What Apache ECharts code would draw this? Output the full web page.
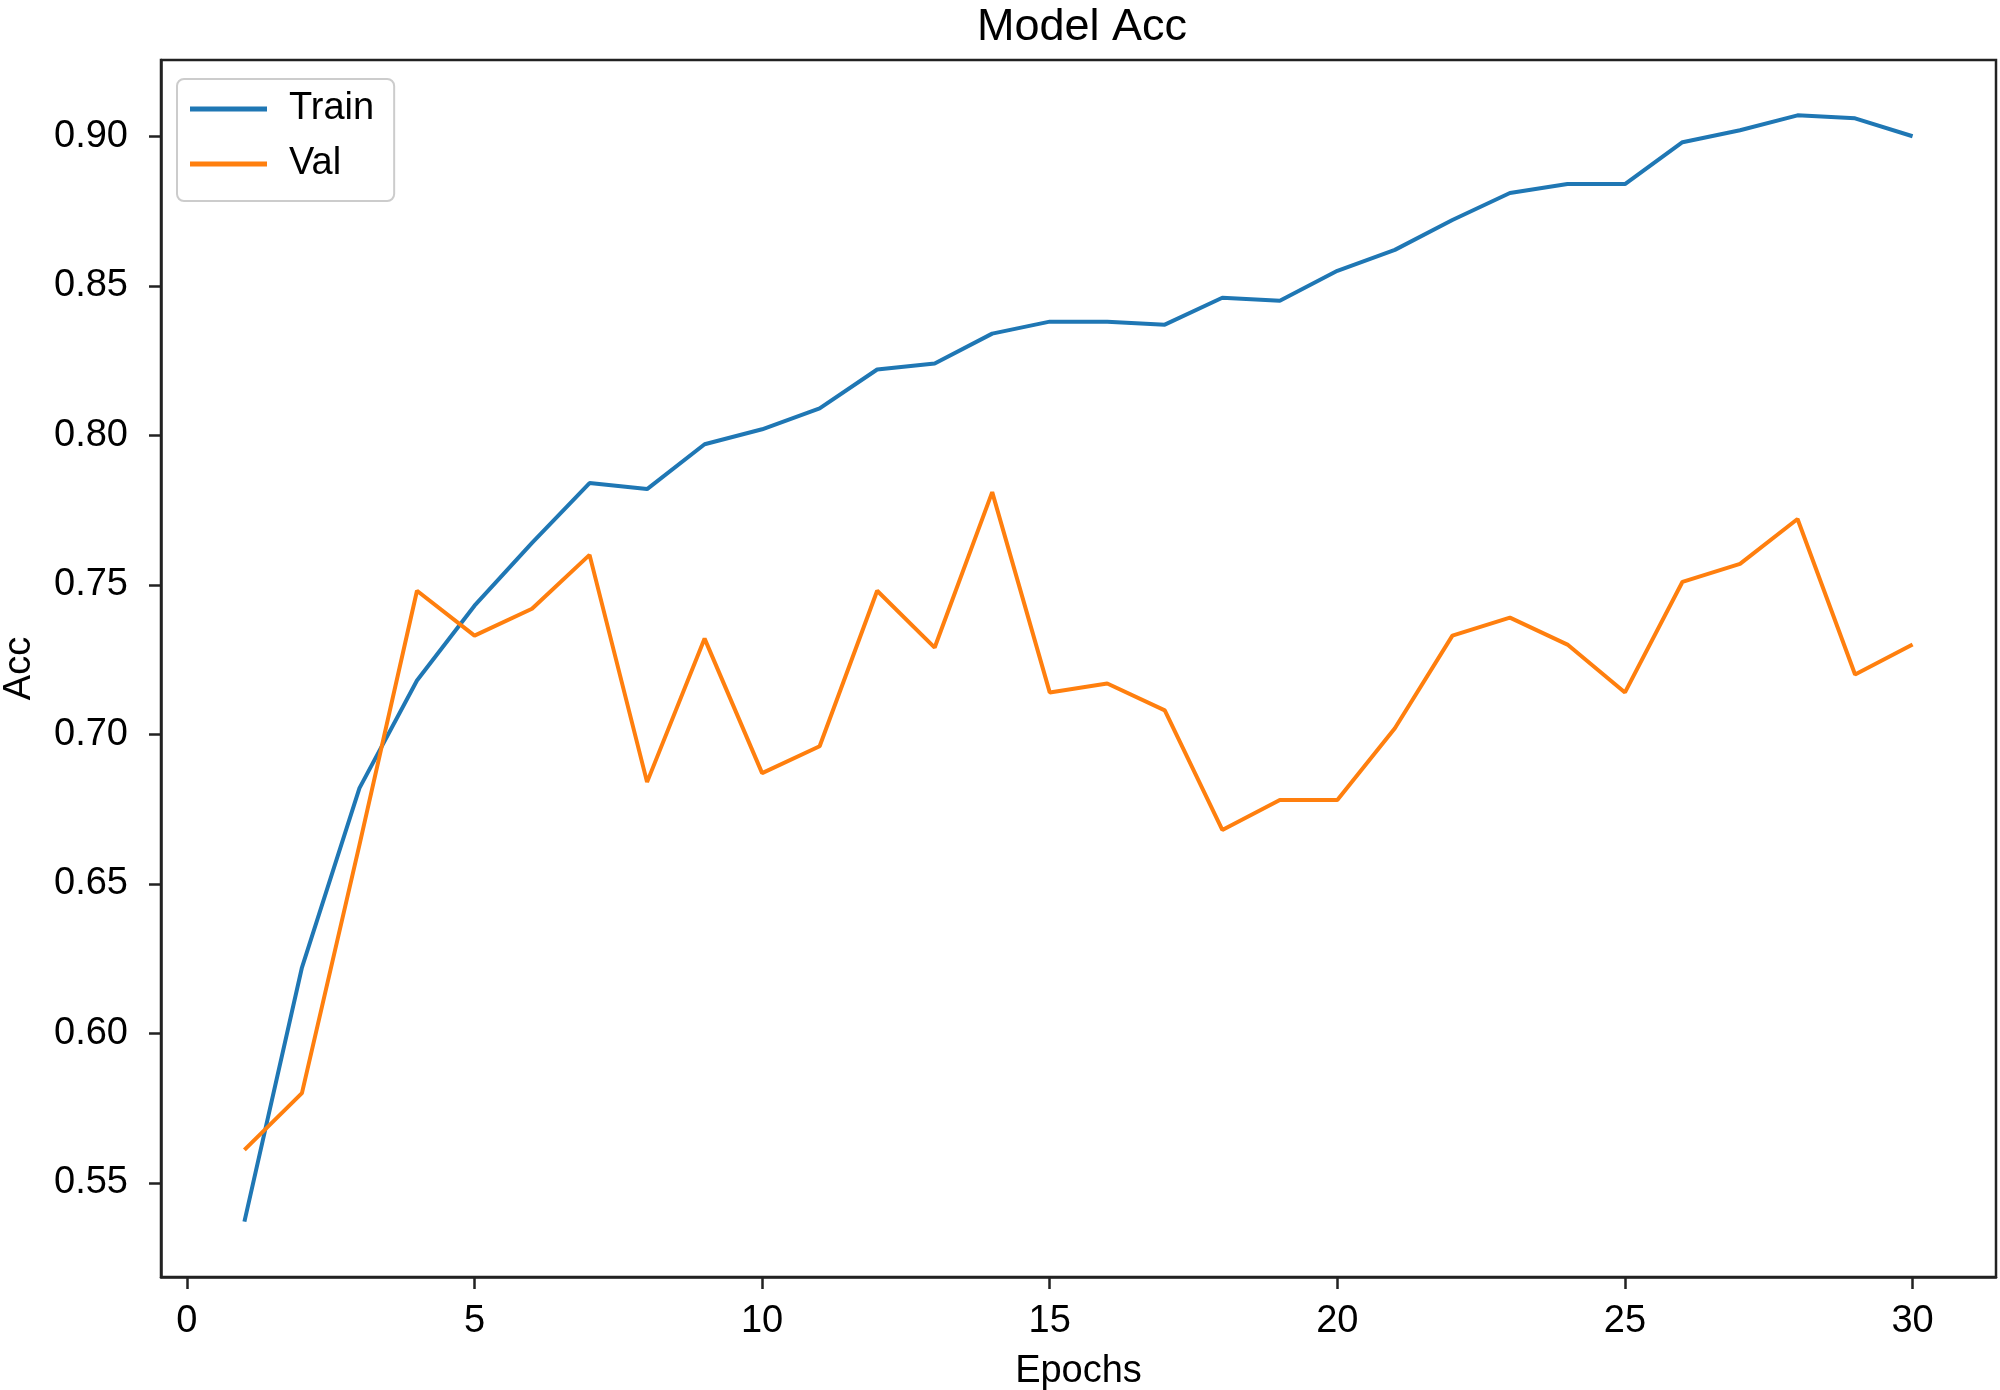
<!DOCTYPE html>
<html>
<head>
<meta charset="utf-8">
<script src="https://cdn.jsdelivr.net/npm/echarts@6/dist/echarts.min.js"></script>
<style>
html,body{margin:0;padding:0;background:#fff;}
#chart{width:2000px;height:1390px;}
</style>
</head>
<body>
<div id="chart"></div>
<script>
const epochs = [1,2,3,4,5,6,7,8,9,10,11,12,13,14,15,16,17,18,19,20,21,22,23,24,25,26,27,28,29,30];
const trainAcc = [0.537,0.622,0.682,0.718,0.743,0.764,0.784,0.782,0.797,0.802,0.809,0.822,0.824,0.834,0.838,0.838,0.837,0.846,0.845,0.855,0.862,0.872,0.881,0.884,0.884,0.898,0.902,0.907,0.906,0.900];
const valAcc = [0.561,0.580,0.663,0.748,0.733,0.742,0.760,0.684,0.732,0.687,0.696,0.748,0.729,0.781,0.714,0.717,0.708,0.668,0.678,0.678,0.702,0.733,0.739,0.730,0.714,0.751,0.757,0.772,0.720,0.730];
const xTicks = [0,5,10,15,20,25,30];
const yTicks = [0.55,0.60,0.65,0.70,0.75,0.80,0.85,0.90];

const FONT = '"Liberation Sans", Arial, Helvetica, sans-serif';
const chart = echarts.init(document.getElementById('chart'), null, {renderer:'canvas'});
chart.setOption({
  animation: false,
  backgroundColor: '#fff',
  title: {
    text: 'Model Acc', left: 972, top: 0,
    textStyle: {fontFamily: FONT, fontSize: 45, fontWeight: 'normal', color: '#000'}
  },
  legend: {
    left: 177, top: 79, orient: 'vertical',
    data: ['Train','Val'],
    icon: 'rect', itemWidth: 77, itemHeight: 5, itemGap: 15,
    padding: [10, 20, 17, 13],
    borderColor: '#cccccc', borderWidth: 2, borderRadius: 7,
    backgroundColor: 'rgba(255,255,255,0.8)',
    textStyle: {fontFamily: FONT, fontSize: 38, color: '#000', lineHeight: 40, padding: [0,0,0,17]}
  },
  grid: {left: 161, right: 4, top: 60, bottom: 113, show: true, borderColor: '#222', borderWidth: 2.5,
    backgroundColor: 'transparent', containLabel: false, outerBoundsMode: 'none'},
  xAxis: {
    type: 'value', min: -0.45, max: 31.45,
    name: 'Epochs', nameLocation: 'middle', nameGap: 76,
    nameTextStyle: {fontFamily: FONT, fontSize: 38, color: '#000'},
    axisLine: {show: true, onZero: false, lineStyle: {color: '#222', width: 2.5}},
    axisTick: {show: true, customValues: xTicks, length: 12, lineStyle: {color: '#222', width: 2.5}},
    axisLabel: {customValues: xTicks, margin: 26, fontFamily: FONT, fontSize: 38, color: '#000'},
    splitLine: {show: false}
  },
  yAxis: {
    type: 'value', min: 0.5185, max: 0.9255,
    name: 'Acc', nameLocation: 'middle', nameGap: 122, nameRotate: 90,
    nameTextStyle: {fontFamily: FONT, fontSize: 38, color: '#000'},
    axisLine: {show: true, onZero: false, lineStyle: {color: '#222', width: 2.5}},
    axisTick: {show: true, customValues: yTicks, length: 12, lineStyle: {color: '#222', width: 2.5}},
    axisLabel: {customValues: yTicks, margin: 33, fontFamily: FONT, fontSize: 38, color: '#000',
      formatter: v => v.toFixed(2)},
    splitLine: {show: false}
  },
  series: [
    {name: 'Train', type: 'line', data: epochs.map((e,i)=>[e, trainAcc[i]]), symbol: 'none',
     lineStyle: {color: '#1f77b4', width: 4}, itemStyle: {color: '#1f77b4'}},
    {name: 'Val', type: 'line', data: epochs.map((e,i)=>[e, valAcc[i]]), symbol: 'none',
     lineStyle: {color: '#ff7f0e', width: 4}, itemStyle: {color: '#ff7f0e'}}
  ]
});
</script>
</body>
</html>
